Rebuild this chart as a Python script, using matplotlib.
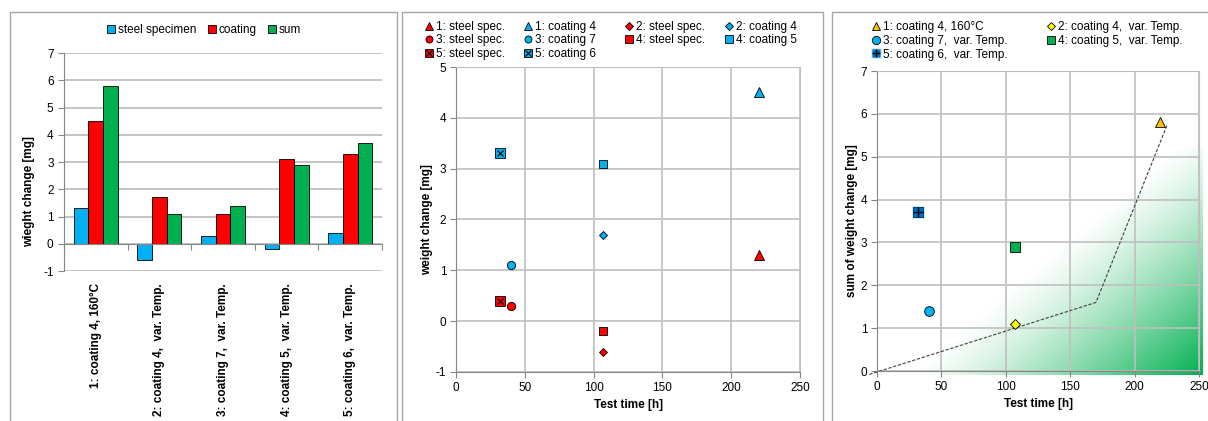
import numpy as np
import matplotlib.pyplot as plt
from matplotlib.patches import Rectangle
from matplotlib.legend_handler import HandlerTuple
from matplotlib.colors import to_rgb
from matplotlib.transforms import blended_transform_factory

plt.rcParams.update({'font.family': ['Liberation Sans', 'DejaVu Sans'], 'font.size': 8.5,
                     'axes.unicode_minus': False})

W, H = 1208, 421

# samples: label, test time, weight change of steel specimen / coating / sum
samples = ["1: coating 4, 160°C", "2: coating 4,  var. Temp.", "3: coating 7,  var. Temp.",
           "4: coating 5,  var. Temp.", "5: coating 6,  var. Temp."]
coating_no = [4, 4, 7, 5, 6]
test_time = [220, 107, 40, 107, 32]
steel = [1.3, -0.6, 0.3, -0.2, 0.4]
coating = [4.5, 1.7, 1.1, 3.1, 3.3]
total = [5.8, 1.1, 1.4, 2.9, 3.7]

# dashed limit line in the sum plot
limit_t = [-6, 170, 225]
limit_w = [-0.08, 1.6, 5.72]

blue = '#00b0f0'
red = '#ff0000'
green = '#00b050'
sum_colors = ['#ffc000', '#ffff00', '#00b0f0', '#00b050', '#0070c0']
grid_c = '#bfbfbf'
axis_c = '#868686'


def box(l, t, r, b):
    return [l / W, 1 - b / H, (r - l) / W, (b - t) / H]


def col_legend(handles, labels, x, top, spacing):
    # one legend column, placed in pixel positions
    lg = fig.legend(handles, labels, loc='upper left', bbox_to_anchor=(x / W, 1 - top / H),
                    frameon=False, borderpad=0, borderaxespad=0, handlelength=0.8,
                    handletextpad=0.25, labelspacing=spacing, markerscale=0.85,
                    handler_map={tuple: HandlerTuple(ndivide=1)})
    return lg


def style_axes(ax):
    for s in ax.spines.values():
        s.set_color(grid_c)
    ax.spines['left'].set_color(axis_c)
    ax.spines['bottom'].set_color(axis_c)
    ax.grid(True, color=grid_c, lw=1.2)
    ax.set_axisbelow('line')
    ax.tick_params(length=4, color=axis_c, width=0.8, pad=3)


fig = plt.figure(figsize=(W / 100, H / 100), dpi=100)

# panel frames
for l, r in [(10, 397), (402, 823), (832, 1212)]:
    fig.add_artist(Rectangle((l / W, -0.01), (r - l) / W, 1 - 12 / H + 0.01,
                             transform=fig.transFigure, fill=False, ec='#a6a6a6', lw=1))

# ---- bar chart ----
ax1 = fig.add_axes(box(64, 53, 382, 271))
x = np.arange(len(samples))
bw = 0.23
b1 = ax1.bar(x - bw, steel, bw, color=blue, ec='black', lw=0.6, label='steel specimen')
b2 = ax1.bar(x, coating, bw, color=red, ec='black', lw=0.6, label='coating')
b3 = ax1.bar(x + bw, total, bw, color=green, ec='black', lw=0.6, label='sum')
ax1.set_xlim(-0.5, 4.5)
ax1.set_ylim(-1, 7)
ax1.set_yticks(range(-1, 8))
ax1.yaxis.grid(True, color=grid_c, lw=1.3)
ax1.set_axisbelow(True)
for s in ['top', 'right']:
    ax1.spines[s].set_visible(False)
ax1.spines['left'].set_color(axis_c)
ax1.spines['bottom'].set_color(axis_c)
ax1.spines['bottom'].set_position(('data', 0))
ax1.set_xticks(np.arange(-0.5, 5, 1))
ax1.set_xticklabels([])
ax1.tick_params(length=4, color=axis_c, width=0.8)
trans = blended_transform_factory(ax1.transData, ax1.transAxes)
for i, name in enumerate(samples):
    ax1.text(i, -0.055, name, rotation=90, ha='center', va='top', fontweight='bold', transform=trans)
ax1.set_ylabel('wieght change [mg]', fontweight='bold')
ax1.yaxis.set_label_coords(-0.09, 0.365)
fig.legend([b1, b2, b3], ['steel specimen', 'coating', 'sum'], loc='center',
           bbox_to_anchor=(204 / W, 1 - 30 / H), ncol=3, frameon=False, handlelength=0.7,
           handleheight=0.7, handletextpad=0.2, columnspacing=1.0)

# ---- weight change vs. test time ----
ax2 = fig.add_axes(box(456, 67, 800, 372))
marks = ['^', 'D', 'o', 's', 's']
msize = [7.5, 4.5, 6, 6, 6.5]
h_steel, h_coat = [], []
for i in range(len(samples)):
    hs = ax2.plot(test_time[i], steel[i], ls='none', marker=marks[i], ms=msize[i],
                  mfc=red, mec='black', mew=0.6, zorder=3)[0]
    hc = ax2.plot(test_time[i], coating[i], ls='none', marker=marks[i], ms=msize[i],
                  mfc=blue, mec='black', mew=0.6, zorder=3)[0]
    if i == 4:
        xs = ax2.plot(test_time[i], steel[i], ls='none', marker='x', ms=4.5, mec='black', mew=0.8, zorder=4)[0]
        xc = ax2.plot(test_time[i], coating[i], ls='none', marker='x', ms=4.5, mec='black', mew=0.8, zorder=4)[0]
        hs, hc = (hs, xs), (hc, xc)
    h_steel.append(hs)
    h_coat.append(hc)
ax2.set_xlim(0, 250)
ax2.set_ylim(-1, 5)
ax2.set_xticks(range(0, 251, 50))
ax2.set_yticks(range(-1, 6))
style_axes(ax2)
ax2.set_xlabel('Test time [h]', fontweight='bold')
ax2.xaxis.set_label_coords(0.5, -0.09)
ax2.set_ylabel('weight change [mg]', fontweight='bold')
ax2.yaxis.set_label_coords(-0.068, 0.5)

steel_lab = [f"{i + 1}: steel spec." for i in range(5)]
coat_lab = [f"{i + 1}: coating {n}" for i, n in enumerate(coating_no)]
col_legend([h_steel[0], h_steel[2], h_steel[4]], [steel_lab[0], steel_lab[2], steel_lab[4]], 424, 21, 0.12)
col_legend([h_coat[0], h_coat[2], h_coat[4]], [coat_lab[0], coat_lab[2], coat_lab[4]], 523, 21, 0.12)
col_legend([h_steel[1], h_steel[3]], [steel_lab[1], steel_lab[3]], 624, 21, 0.12)
col_legend([h_coat[1], h_coat[3]], [coat_lab[1], coat_lab[3]], 724, 21, 0.12)

# ---- sum of weight change vs. test time ----
ax3 = fig.add_axes(box(877, 71, 1199, 371))
ny, nx = 200, 300
U, V = np.meshgrid(np.linspace(0, 1, nx), np.linspace(0, 1, ny))
t = 0.55 * U + 0.45 * (1 - V)
rgba = np.zeros((ny, nx, 4))
rgba[..., :3] = to_rgb(green)
rgba[..., 3] = np.clip((t - 0.5) / 0.5, 0, 1) ** 1.25
ax3.imshow(rgba, extent=(0, 253, -0.1, 5.2), origin='lower', aspect='auto',
           interpolation='bilinear', zorder=0.2, clip_on=False)
ax3.plot(limit_t, limit_w, ls=(0, (3, 1.5)), color='#404040', lw=0.8, clip_on=False, zorder=2)

msize3 = [7.5, 5, 7, 7, 7]
h_sum = []
for i in range(len(samples)):
    h = ax3.plot(test_time[i], total[i], ls='none', marker=marks[i], ms=msize3[i],
                 mfc=sum_colors[i], mec='black', mew=0.6, zorder=3)[0]
    if i == 4:
        halo = ax3.plot(test_time[i], total[i], ls='none', marker='s', ms=8.5,
                        mfc='#a8d8f5', mec='none', zorder=2.9)[0]
        h = ax3.plot(test_time[i], total[i], ls='none', marker='s', ms=7,
                     mfc=sum_colors[i], mec='none', zorder=3)[0]
        p = ax3.plot(test_time[i], total[i], ls='none', marker='+', ms=7,
                     mec='black', mew=1.0, zorder=4)[0]
        h = (halo, h, p)
    h_sum.append(h)
ax3.set_xlim(0, 250)
ax3.set_ylim(0, 7)
ax3.set_xticks(range(0, 251, 50))
ax3.set_yticks(range(0, 8))
style_axes(ax3)
ax3.set_xlabel('Test time [h]', fontweight='bold')
ax3.xaxis.set_label_coords(0.5, -0.09)
ax3.set_ylabel('sum of weight change [mg]', fontweight='bold')
ax3.yaxis.set_label_coords(-0.06, 0.5)

col_legend([h_sum[0], h_sum[2], h_sum[4]], [samples[0], samples[2], samples[4]], 871, 21, 0.15)
col_legend([h_sum[1], h_sum[3]], [samples[1], samples[3]], 1046, 21, 0.15)

fig.savefig('out.png', dpi=100)
